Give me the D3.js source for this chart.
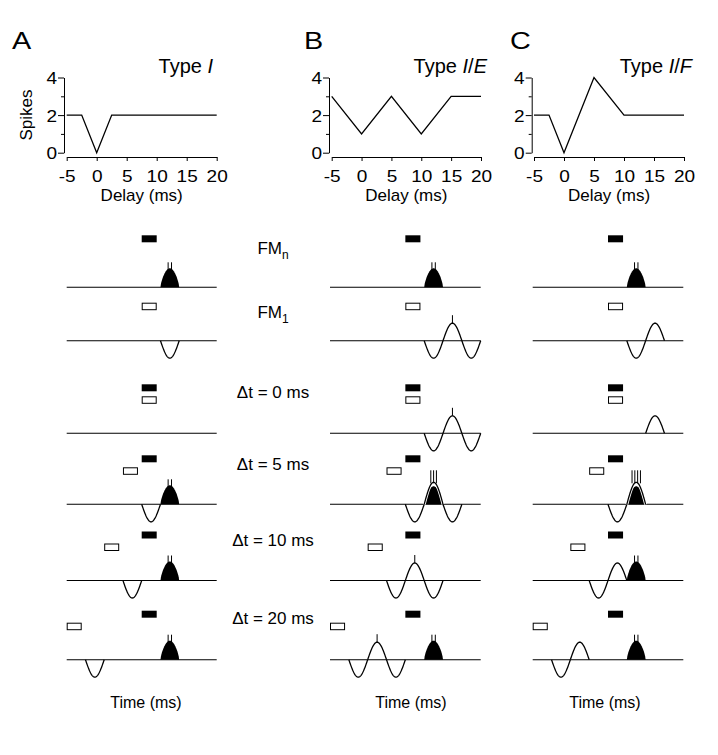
<!DOCTYPE html>
<html><head><meta charset="utf-8">
<script src="https://cdn.jsdelivr.net/npm/d3@7"></script>
<style>
body{margin:0;background:#fff}
text{font-family:"Liberation Sans",Arial,Helvetica,sans-serif;fill:#000}
</style>
</head><body>
<svg id="c" width="718" height="755"></svg>
<script>
// ---------------- DATA ----------------
const panelLetters = ["A", "B", "C"];
const panelTitles = ["Type I", "Type I/E", "Type I/F"];
const delayTicks = [-5, 0, 5, 10, 15, 20];
const spikeTicks = [0, 1, 2, 3, 4];
const spikeTickLabels = [0, 2, 4];

// Tuning curves: spikes vs delay
const delayI  = [-5, -2.5, 0, 2.5, 20];
const spikesI = [2, 2, 0, 2, 2];
const delayIE  = [-5, 0, 5, 10, 15, 20];
const spikesIE = [3, 1, 3, 1, 3, 3];
const delayIF  = [-5, -2.5, 0, 5, 10, 20];
const spikesIF = [2, 2, 0, 4, 2, 2];

// Schematic rows
const rowMain = ["FM", "FM", "\u0394t = 0 ms", "\u0394t = 5 ms", "\u0394t = 10 ms", "\u0394t = 20 ms"];
const rowSub  = ["n", "1", "", "", "", ""];
const rowHasFMn  = [true, false, true, true, true, true];
const rowFM1Lead = [null, 0, 0, 5, 10, 20];   // ms FM1 leads FMn
const stimOnset = 20, stimDur = 4;            // ms
const respOnset = 25, halfDur = 5;            // ms

// Response half-waves per row: [onset ms, sign (+1 exc / -1 inh), spikes]
const halvesI = [[], [[25,-1,0]], [], [[20,-1,0]], [[15,-1,0]], [[5,-1,0]]];
const bumpI   = [2, null, null, 2, 2, 2];     // FMn bump spikes (null = no bump)
const halvesIE = [[], [[25,-1,0],[30,1,1],[35,-1,0]], [[25,-1,0],[30,1,1],[35,-1,0]],
                  [[20,-1,0],[25,1,3],[30,-1,0]], [[15,-1,0],[20,1,1],[25,-1,0]],
                  [[5,-1,0],[10,1,1],[15,-1,0]]];
const bumpIE   = [2, null, null, 0, null, 2];
const halvesIF = [[], [[25,-1,0],[30,1,0]], [[30,1,0]], [[20,-1,0],[25,1,4]],
                  [[15,-1,0],[20,1,0]], [[5,-1,0],[10,1,0]]];
const bumpIF   = [2, null, null, 0, 2, 2];

// ---------------- LAYOUT ----------------
const svg = d3.select("#c");
const FONT = '"Liberation Sans",Arial,Helvetica,sans-serif';

const panels = [
  {ax: 64,    x0: 66.7,  x1: 216.7, letterX: 12,  titleR: 213,
   curve: [delayI, spikesI], sx: [66.7, 216.7], halves: halvesI, bump: bumpI, timeX: 146},
  {ax: 329,   x0: 331.7, x1: 481,   letterX: 304, titleR: 487,
   curve: [delayIE, spikesIE], sx: [330, 480.7], halves: halvesIE, bump: bumpIE, timeX: 411},
  {ax: 531.7, x0: 534,   x1: 684,   letterX: 510, titleR: 692,
   curve: [delayIF, spikesIF], sx: [532.7, 683.3], halves: halvesIF, bump: bumpIF, timeX: 605}
];

const yTop = d3.scaleLinear().domain([0, 4]).range([152.7, 77.5]);
const xAxisY = 157;

panels.forEach((p, pi) => {
  const g = svg.append("g");
  // letter
  g.append("text").attr("transform", `translate(${p.letterX},48.5) scale(1.2,1)`)
    .attr("font-size", 24).text(panelLetters[pi]);
  // title
  const tt = g.append("text").attr("x", p.titleR).attr("y", 73).attr("text-anchor", "end").attr("font-size", 20);
  const title = panelTitles[pi];
  tt.append("tspan").text("Type ");
  title.slice(5).split("").forEach(ch => {
    tt.append("tspan").attr("font-style", ch === "/" ? "normal" : "italic").text(ch);
  });

  const x = d3.scaleLinear().domain([-5, 20]).range([p.x0, p.x1]);
  // x axis
  const xa = g.append("g").attr("transform", `translate(0,${xAxisY})`)
    .call(d3.axisBottom(x).tickValues(delayTicks).tickSize(4).tickSizeOuter(0).tickFormat(d => String(d)));
  xa.select(".domain").attr("stroke", "#000");
  xa.selectAll(".tick line").attr("stroke", "#000");
  xa.selectAll(".tick text").attr("font-size", 17).attr("font-family", FONT).attr("dy", null)
    .attr("y", null).attr("transform", "translate(0,25) scale(1.12,1)");
  // y axis
  const ya = g.append("g").attr("transform", `translate(${p.ax},0)`)
    .call(d3.axisLeft(yTop).tickValues(spikeTicks).tickSizeOuter(0)
      .tickFormat(d => spikeTickLabels.includes(d) ? String(d) : ""));
  ya.select(".domain").attr("stroke", "#000");
  ya.selectAll(".tick line").attr("stroke", "#000").attr("x2", d => spikeTickLabels.includes(d) ? -6 : -3);
  ya.selectAll(".tick text").attr("font-size", 17).attr("font-family", FONT).attr("x", null).attr("dy", null)
    .attr("transform", "translate(-7,6) scale(1.12,1)");
  // x label
  g.append("text").attr("x", (p.x0 + p.x1) / 2).attr("y", 201).attr("text-anchor", "middle")
    .attr("font-size", 17).text("Delay (ms)");
  // curve
  const pts = p.curve[0].map((d, i) => [x(d), yTop(p.curve[1][i])]);
  g.append("path").attr("d", d3.line()(pts)).attr("fill", "none").attr("stroke", "#000").attr("stroke-width", 1.3);
});
// Spikes label
svg.append("text").attr("transform", "translate(32,115) rotate(-90)").attr("text-anchor", "middle")
  .attr("font-size", 17).text("Spikes");

// ---------------- SCHEMATICS ----------------
const baselines = [287.3, 340.7, 433.3, 504.3, 580.5, 659.7];
const blackOff = [52, null, 49, 49, 49, 49];
const whiteOff = [null, 38, 37, 37, 37, 37];
const labelY = [254, 318, 398, 470, 546, 624];
const AMP = 17.5, BUMP_H = 19, MERGE_AMP = 22;

// row labels
rowMain.forEach((m, i) => {
  const t = svg.append("text").attr("x", 273).attr("y", labelY[i]).attr("text-anchor", "middle").attr("font-size", 17);
  t.append("tspan").text(m);
  if (rowSub[i]) t.append("tspan").attr("font-size", 12).attr("dy", 5).text(rowSub[i]);
});

function halfWave(xs, base, t0, sign, amp) {
  const pts = d3.range(0, 41).map(i => [xs(t0 + halfDur * i / 40), base - sign * amp * Math.sin(Math.PI * i / 40)]);
  return d3.line()(pts);
}
function bumpShape(xs, base, t0, h) {
  const pts = d3.range(0, 41).map(i => [xs(t0 + halfDur * i / 40), base - h * Math.pow(Math.sin(Math.PI * i / 40), 0.7)]);
  return d3.line()(pts) + "Z";
}

panels.forEach((p, pi) => {
  const xs = d3.scaleLinear().domain([0, 40]).range(p.sx);
  const g = svg.append("g");
  baselines.forEach((b, r) => {
    g.append("line").attr("x1", xs(0)).attr("x2", xs(40)).attr("y1", b).attr("y2", b)
      .attr("stroke", "#000").attr("stroke-width", 1.1);
    if (rowHasFMn[r]) {
      g.append("rect").attr("x", xs(stimOnset)).attr("width", xs(stimOnset + stimDur) - xs(stimOnset))
        .attr("y", b - blackOff[r]).attr("height", 7).attr("fill", "#000");
    }
    if (rowFM1Lead[r] !== null) {
      const on = stimOnset - rowFM1Lead[r];
      g.append("rect").attr("x", xs(on) + 0.5).attr("width", xs(on + stimDur) - xs(on) - 1)
        .attr("y", b - whiteOff[r] + 0.5).attr("height", 6.5).attr("fill", "#fff")
        .attr("stroke", "#000").attr("stroke-width", 1);
    }
    const halves = p.halves[r];
    const bump = p.bump[r];
    if (bump !== null) {
      g.append("path").attr("d", bumpShape(xs, b, respOnset, bump === 0 ? 18 : BUMP_H)).attr("fill", "#000");
      if (bump > 0) {
        const cx = xs(respOnset + halfDur / 2);
        for (let k = 0; k < bump; k++) {
          const xx = cx + (k - (bump - 1) / 2) * 3.4;
          g.append("line").attr("x1", xx).attr("x2", xx).attr("y1", b - BUMP_H - 6).attr("y2", b - BUMP_H + 2)
            .attr("stroke", "#000").attr("stroke-width", 1);
        }
      }
    }
    halves.forEach(([t0, s, n]) => {
      const merged = (bump !== null && s > 0 && t0 === respOnset);
      const amp = merged ? MERGE_AMP : AMP;
      if (merged) {
        g.append("path").attr("d", halfWave(xs, b, t0, s, amp)).attr("fill", "none")
          .attr("stroke", "#fff").attr("stroke-width", 3);
      }
      g.append("path").attr("d", halfWave(xs, b, t0, s, amp)).attr("fill", "none")
        .attr("stroke", "#000").attr("stroke-width", 1.3);
      if (n > 0) {
        const cx = xs(t0 + halfDur / 2);
        for (let k = 0; k < n; k++) {
          const xx = cx + (k - (n - 1) / 2) * 2.8;
          g.append("line").attr("x1", xx).attr("x2", xx)
            .attr("y1", b - amp - (merged ? 12 : 8)).attr("y2", b - amp + (merged ? 1 : 0))
            .attr("stroke", "#000").attr("stroke-width", 1);
        }
      }
    });
  });
  svg.append("text").attr("x", p.timeX).attr("y", 708).attr("text-anchor", "middle")
    .attr("font-size", 16).text("Time (ms)");
});
</script>
</body></html>
